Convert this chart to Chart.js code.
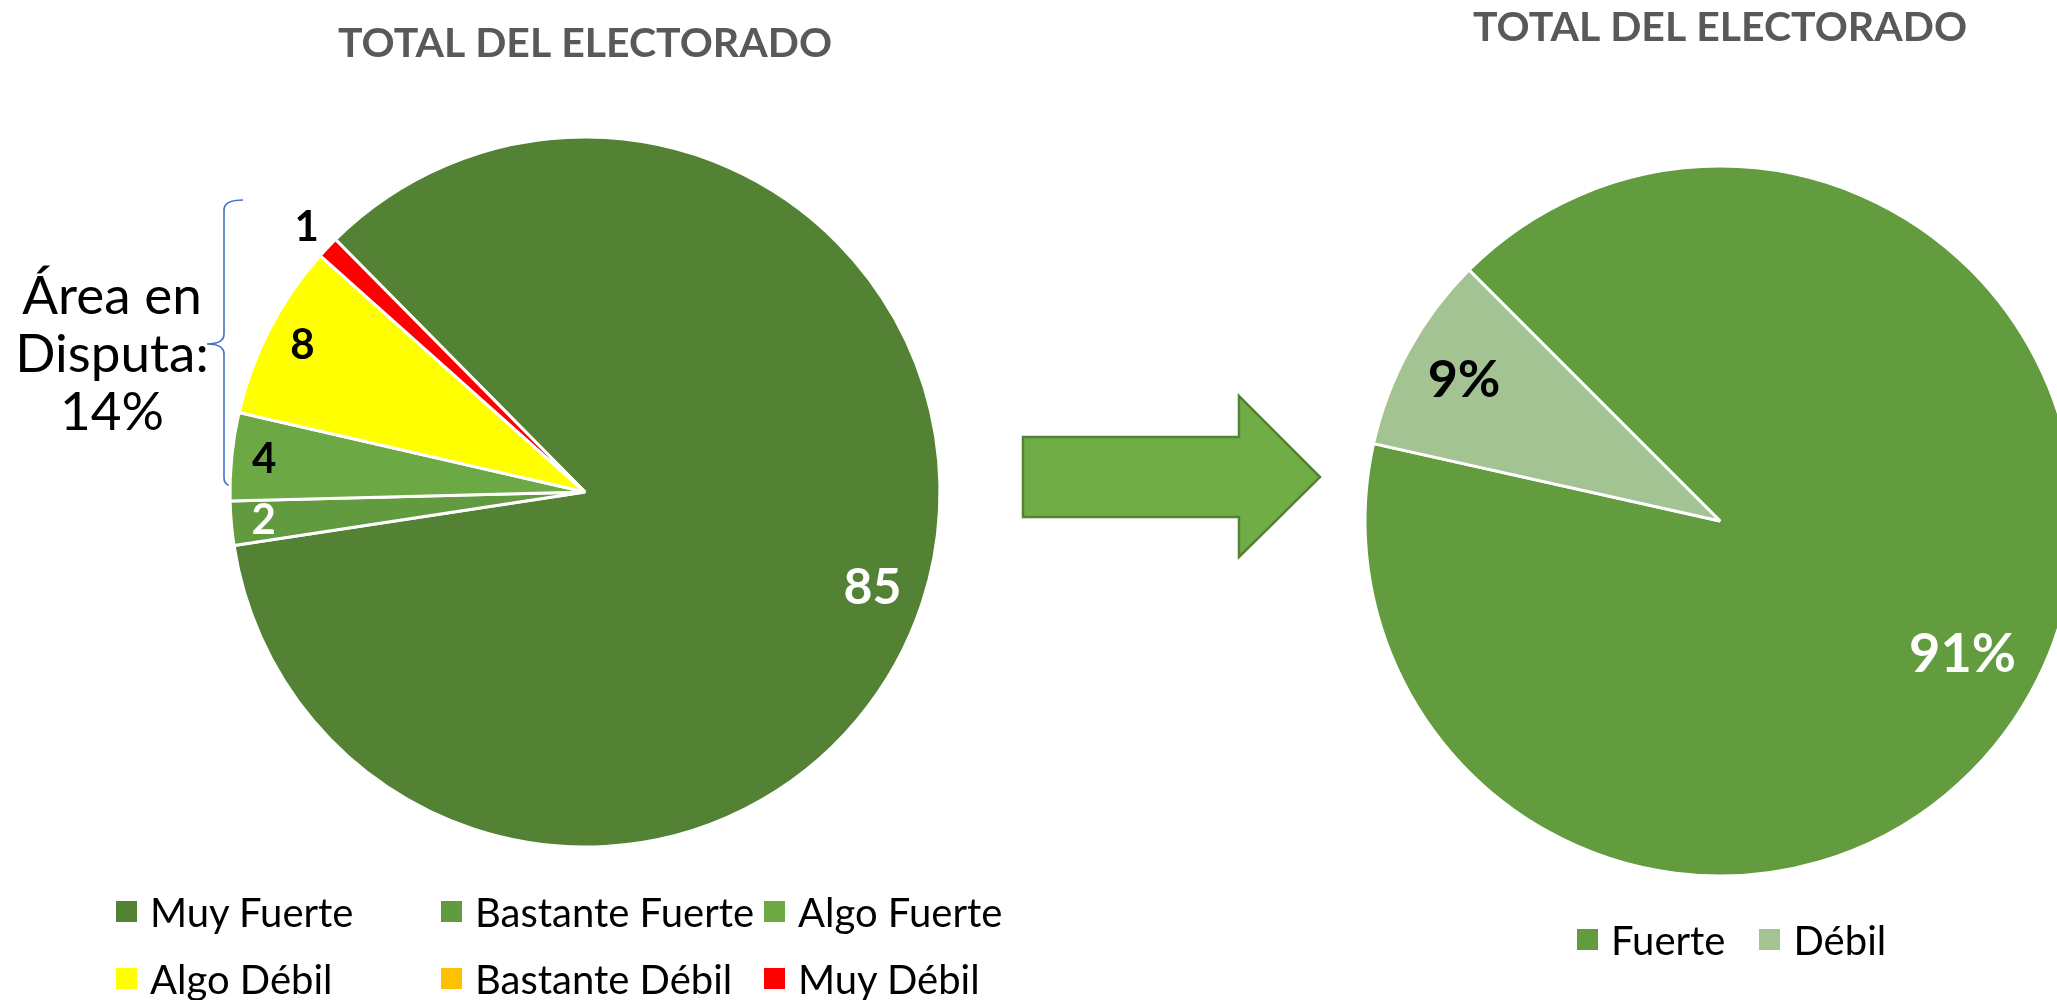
<!DOCTYPE html>
<html>
<head>
<meta charset="utf-8">
<script src="https://cdn.jsdelivr.net/npm/chart.js@4.4.1/dist/chart.umd.min.js"></script>
<style>
  html, body { margin: 0; width: 2057px; height: 1000px; overflow: hidden; background: #fff; font-family: Lato, sans-serif; }
  #leftBox { position: absolute; left: 0; top: 0; width: 1170px; height: 913px; }
  #rightBox { position: absolute; left: 1320px; top: 0; width: 800px; height: 987px; }
  .legend { position: absolute; font-size: 40px; color: #000; }
  #legendLeft { left: 116px; top: 878px; display: grid; grid-template-columns: 325px 323px auto; grid-auto-rows: 67px; }
  #legendRight { left: 1577px; top: 906px; display: flex; }
  #legendRight .item { margin-right: 34px; height: 67px; }
  .item { display: flex; align-items: center; white-space: nowrap; }
  .item i { width: 21px; height: 21px; margin-right: 13px; flex: none; }
  #disputa { position: absolute; left: 0; top: 265px; width: 224px; text-align: center; font-size: 53px; line-height: 58px; color: #000; }
  svg { position: absolute; left: 0; top: 0; }
</style>
</head>
<body>
<svg width="2057" height="1000">
  <!-- llave del area en disputa -->
  <path d="M243 200 Q224 200 224 210 L224 334 Q224 344 207 344 Q224 344 224 354 L224 478 Q224 488 243 488"
        fill="none" stroke="#4472C4" stroke-width="1.6"/>
  <!-- flecha -->
  <polygon points="1023,437 1239,437 1239,396 1320,477 1239,557 1239,517 1023,517"
           fill="#70AD47" stroke="#548235" stroke-width="2.5" stroke-linejoin="miter"/>
</svg>
<div id="disputa">Área en<br>Disputa:<br>14%</div>
<div id="leftBox"><canvas id="chartLeft"></canvas></div>
<div id="rightBox"><canvas id="chartRight"></canvas></div>
<div id="legendLeft" class="legend"></div>
<div id="legendRight" class="legend"></div>
<script>
const chartTitle = 'TOTAL DEL ELECTORADO';

const leftLabels = ['Muy Fuerte', 'Bastante Fuerte', 'Algo Fuerte', 'Algo Débil', 'Bastante Débil', 'Muy Débil'];
const leftValues = [85, 2, 4, 8, 0, 1];

const rightLabels = ['Fuerte', 'Débil'];
const rightValues = [91, 9];

const leftColors = ['#548235', '#619A3F', '#6CA843', '#FFFF00', '#FFC000', '#FF0000'];
const leftLabelColors = ['#fff', '#fff', '#000', '#000', '#000', '#000'];
const leftLabelSizes = [50, 42, 42, 42, 42, 42];

const rightColors = ['#639B3F', '#A3C492'];
const rightLabelColors = ['#fff', '#000'];
const rightLabelSizes = [54, 52];

// etiquetas "extremo interno": el texto queda pegado al borde de la porcion
const sliceLabels = {
  id: 'sliceLabels',
  afterDatasetsDraw(chart, args, opts) {
    const { ctx } = chart;
    const values = chart.data.datasets[0].data;
    chart.getDatasetMeta(0).data.forEach((arc, i) => {
      if (!values[i]) return;
      const { startAngle, endAngle, outerRadius, x, y } =
        arc.getProps(['startAngle', 'endAngle', 'outerRadius', 'x', 'y'], true);
      const text = values[i] + opts.suffix;
      const mid = (startAngle + endAngle) / 2;
      const cos = Math.cos(mid);
      const sin = Math.sin(mid);
      ctx.save();
      ctx.font = `bold ${opts.sizes[i]}px Lato, sans-serif`;
      const w = ctx.measureText(text).width;
      const h = opts.sizes[i] * 0.72;
      const half = Math.abs(cos) * w / 2 + Math.abs(sin) * h / 2;
      const share = (endAngle - startAngle) / (Math.PI * 2);
      const r = share < 0.02 ? outerRadius + opts.outside : outerRadius - opts.margin - half;
      ctx.fillStyle = opts.colors[i];
      ctx.textAlign = 'center';
      ctx.textBaseline = 'middle';
      ctx.fillText(text, x + cos * r, y + sin * r);
      ctx.restore();
    });
  },
};

function buildPie(id, config) {
  return new Chart(document.getElementById(id), {
    type: 'pie',
    plugins: [sliceLabels],
    ...config,
    options: {
      responsive: true,
      maintainAspectRatio: false,
      animation: false,
      rotation: config.rotation,
      layout: { padding: 0 },
      plugins: {
        legend: { display: false },
        tooltip: { enabled: false },
        title: {
          display: true,
          text: chartTitle,
          color: '#595959',
          font: { family: 'Lato', size: 41, weight: 'bold', lineHeight: 1.32 },
          padding: { top: config.titleTop, bottom: 0 },
        },
        sliceLabels: config.sliceLabels,
      },
    },
  });
}

function htmlLegend(chart, el) {
  const ds = chart.data.datasets[0];
  chart.data.labels.forEach((label, i) => {
    const item = document.createElement('div');
    item.className = 'item';
    const box = document.createElement('i');
    box.style.background = ds.backgroundColor[i];
    item.appendChild(box);
    item.appendChild(document.createTextNode(label));
    el.appendChild(item);
  });
}

const left = buildPie('chartLeft', {
  rotation: -44.65,
  titleTop: 17,
  data: {
    labels: leftLabels,
    datasets: [{ data: leftValues, backgroundColor: leftColors, borderColor: '#fff', borderWidth: 3, radius: 355 }],
  },
  sliceLabels: { margin: 19, outside: 29, suffix: '', colors: leftLabelColors, sizes: leftLabelSizes },
});

const right = buildPie('chartRight', {
  rotation: -45,
  titleTop: 1,
  data: {
    labels: rightLabels,
    datasets: [{ data: rightValues, backgroundColor: rightColors, borderColor: '#fff', borderWidth: 3, radius: 355 }],
  },
  sliceLabels: { margin: 22, outside: 29, suffix: '%', colors: rightLabelColors, sizes: rightLabelSizes },
});

htmlLegend(left, document.getElementById('legendLeft'));
htmlLegend(right, document.getElementById('legendRight'));
</script>
</body>
</html>
